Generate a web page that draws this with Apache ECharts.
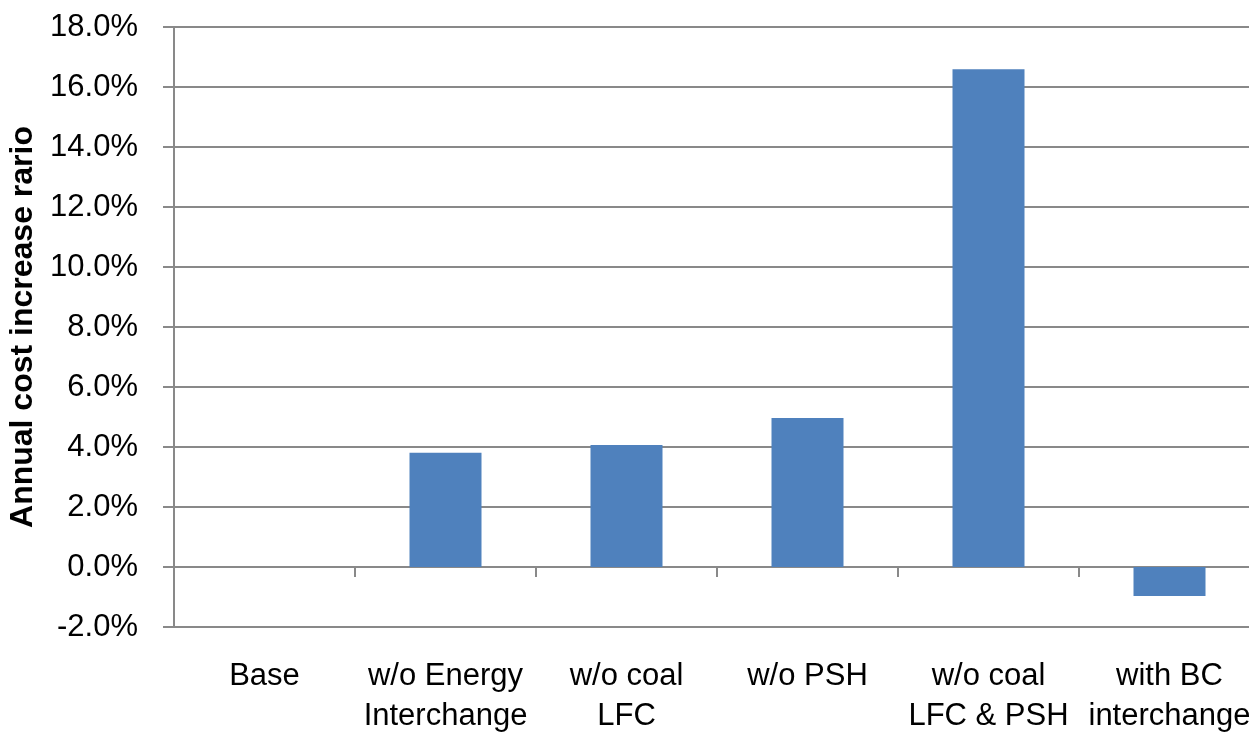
<!DOCTYPE html>
<html>
<head>
<meta charset="utf-8">
<script src="https://cdn.jsdelivr.net/npm/echarts@6/dist/echarts.min.js"></script>
<style>
html,body{margin:0;padding:0;background:#fff;}
#chart{width:1249px;height:733px;}
</style>
</head>
<body>
<div id="chart"></div>
<script>
const categories = ['Base', 'w/o Energy\nInterchange', 'w/o coal\nLFC', 'w/o PSH', 'w/o coal\nLFC & PSH', 'with BC\ninterchange'];
const costIncrease = [0, 3.81, 4.07, 4.97, 16.59, -0.97];
const yTicks = { min: -2, max: 18, interval: 2 };
const yAxisTitle = 'Annual cost increase rario';

const FONT = '"Liberation Sans", Arial, sans-serif';
const chart = echarts.init(document.getElementById('chart'), null, { renderer: 'canvas' });
chart.setOption({
  animation: false,
  grid: { left: 174, top: 27, width: 1086, bottom: 106, containLabel: false, outerBoundsMode: 'none' },
  xAxis: {
    type: 'category',
    data: categories,
    axisLine: { show: true, onZero: true, lineStyle: { color: '#898989', width: 2 } },
    axisTick: { show: true, length: 10, alignWithLabel: false, lineStyle: { color: '#898989', width: 2 } },
    axisLabel: { interval: 0, margin: 29, fontFamily: FONT, fontSize: 31, lineHeight: 40, color: '#000', align: 'center', hideOverlap: false },
    splitLine: { show: false }
  },
  yAxis: {
    type: 'value',
    min: yTicks.min, max: yTicks.max, interval: yTicks.interval,
    name: yAxisTitle,
    nameLocation: 'middle',
    nameRotate: 90,
    nameGap: 124,
    nameTextStyle: { fontFamily: FONT, fontSize: 32, fontWeight: 'bold', color: '#000' },
    axisLine: { show: true, lineStyle: { color: '#898989', width: 2 } },
    axisTick: { show: true, length: 11, lineStyle: { color: '#898989', width: 2 } },
    axisLabel: { margin: 36, fontFamily: FONT, fontSize: 31, color: '#000', formatter: v => v.toFixed(1) + '%' },
    splitLine: { show: true, lineStyle: { color: '#898989', width: 2 } }
  },
  series: [{
    type: 'bar',
    data: costIncrease,
    barWidth: 72,
    itemStyle: { color: '#4F81BD', borderWidth: 0 }
  }]
});
</script>
</body>
</html>
